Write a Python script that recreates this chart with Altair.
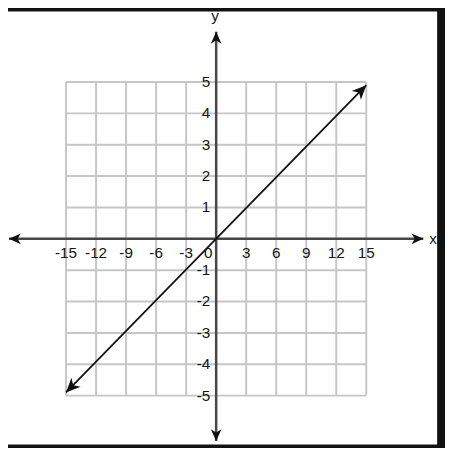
import math
import altair as alt
import pandas as pd

# ---- data ----
x_ticks = [-15, -12, -9, -6, -3, 0, 3, 6, 9, 12, 15]
y_ticks = [-5, -4, -3, -2, -1, 0, 1, 2, 3, 4, 5]
x_label_vals = [-15, -12, -9, -6, -3, 3, 6, 9, 12, 15]
x_label_text = ["-15", "-12", "-9", "-6", "-3", "3", "6", "9", "12", "15"]
y_label_vals = [-5, -4, -3, -2, -1, 1, 2, 3, 4, 5]
y_label_text = ["-5", "-4", "-3", "-2", "-1", "1", "2", "3", "4", "5"]
line_x = [-15, 15]
line_y = [-4.9, 4.9]
grid_x_range = [-15, 15]
grid_y_range = [-5, 5]
x_axis_range = [-20.7, 20.7]
y_axis_range = [-6.45, 6.6]

# ---- layout ----
X_DOMAIN = [-20.80, 22.08]
Y_DOMAIN = [-6.56, 7.25]
W, H = 436, 440

xs = alt.Scale(domain=X_DOMAIN, nice=False, zero=False)
ys = alt.Scale(domain=Y_DOMAIN, nice=False, zero=False)

def X(f="x"):
    return alt.X(f + ":Q", scale=xs, axis=None)

def Y(f="y"):
    return alt.Y(f + ":Q", scale=ys, axis=None)

GRID = "#c6c6c6"
AXIS = "#474747"
TXT = "#151515"
FONT = "Liberation Sans"
ARROW = "M0,0L0.45,1L0,0.72L-0.45,1Z"

vgrid = pd.DataFrame({"x": x_ticks, "y": grid_y_range[0], "y2": grid_y_range[1]})
hgrid = pd.DataFrame({"y": y_ticks, "x": grid_x_range[0], "x2": grid_x_range[1]})

grid_v = alt.Chart(vgrid).mark_rule(color=GRID, strokeWidth=2).encode(
    x=X(), y=Y(), y2="y2:Q")
grid_h = alt.Chart(hgrid).mark_rule(color=GRID, strokeWidth=2).encode(
    y=Y(), x=X(), x2="x2:Q")

xaxis_df = pd.DataFrame({"x": [x_axis_range[0]], "x2": [x_axis_range[1]], "y": [0]})
yaxis_df = pd.DataFrame({"y": [y_axis_range[0]], "y2": [y_axis_range[1]], "x": [0]})
xaxis = alt.Chart(xaxis_df).mark_rule(color=AXIS, strokeWidth=2.5).encode(
    x=X(), x2="x2:Q", y=Y())
yaxis = alt.Chart(yaxis_df).mark_rule(color=AXIS, strokeWidth=2.5).encode(
    y=Y(), y2="y2:Q", x=X())

line_df = pd.DataFrame({"x": line_x, "y": line_y})
line = alt.Chart(line_df).mark_line(color="#111111", strokeWidth=1.8).encode(
    x=X(), y=Y())

# arrow heads
pxx = W / (X_DOMAIN[1] - X_DOMAIN[0])
pxy = H / (Y_DOMAIN[1] - Y_DOMAIN[0])
ang = math.degrees(math.atan2((line_x[1] - line_x[0]) * pxx,
                              (line_y[1] - line_y[0]) * pxy))
arrows_df = pd.DataFrame({
    "x": [x_axis_range[1], x_axis_range[0], 0, 0, line_x[1], line_x[0]],
    "y": [0, 0, y_axis_range[1], y_axis_range[0], line_y[1], line_y[0]],
    "angle": [90, 270, 0, 180, ang, ang + 180],
    "size": [576, 576, 576, 576, 840, 840],
})
arrows = alt.Chart(arrows_df).mark_point(
    shape=ARROW, filled=True, color="#111111", opacity=1, strokeWidth=0
).encode(
    x=X(), y=Y(),
    angle=alt.Angle("angle:Q", scale=None),
    size=alt.Size("size:Q", scale=None),
)

xl_df = pd.DataFrame({"x": x_label_vals, "t": x_label_text, "y": 0})
xlabels = alt.Chart(xl_df).mark_text(
    font=FONT, fontSize=15.5, color=TXT, align="center", baseline="middle", dy=14
).encode(x=X(), y=Y(), text="t:N")

zero_df = pd.DataFrame({"x": [0], "y": [0], "t": ["0"]})
zlabel = alt.Chart(zero_df).mark_text(
    font=FONT, fontSize=15.5, color=TXT, align="center", baseline="middle", dy=14, dx=-8
).encode(x=X(), y=Y(), text="t:N")

yl_df = pd.DataFrame({"y": y_label_vals, "t": y_label_text, "x": 0})
ylabels = alt.Chart(yl_df).mark_text(
    font=FONT, fontSize=15.5, color=TXT, align="right", baseline="middle", dx=-6
).encode(x=X(), y=Y(), text="t:N")

xname = alt.Chart(pd.DataFrame({"x": [x_axis_range[1]], "y": [0], "t": ["x"]})).mark_text(
    font=FONT, fontSize=15.5, color=TXT, align="left", baseline="middle", dx=6
).encode(x=X(), y=Y(), text="t:N")
yname = alt.Chart(pd.DataFrame({"x": [0], "y": [y_axis_range[1]], "t": ["y"]})).mark_text(
    font=FONT, fontSize=15.5, color=TXT, align="center", baseline="alphabetic", dy=-11, dx=-1
).encode(x=X(), y=Y(), text="t:N")

chart = alt.layer(
    grid_v, grid_h, xaxis, yaxis, line, arrows, xlabels, zlabel, ylabels, xname, yname
).properties(
    width=W, height=H,
    padding={"left": 0, "top": 0, "right": 8, "bottom": 0},
    background="#111111",
    autosize=alt.AutoSizeParams(type="none"),
).configure_view(fill="white", strokeWidth=0)

chart.save("out.html", embed_options={"renderer": "svg", "actions": False})
